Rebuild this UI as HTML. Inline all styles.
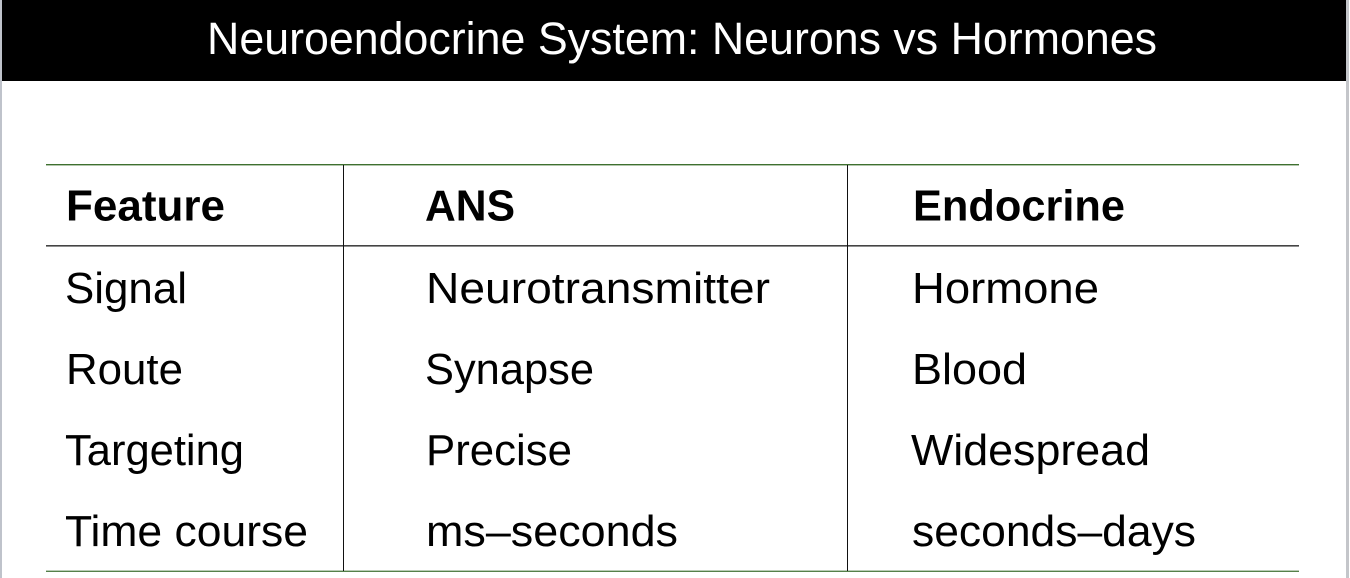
<!DOCTYPE html>
<html><head><meta charset="utf-8"><style>
html,body{margin:0;padding:0;background:#fff}
svg{display:block}
text{font-family:"Liberation Sans",sans-serif;fill:#000}
.b{font-size:44px;font-weight:bold}
.r{font-size:44px}
</style></head><body>
<svg width="1350" height="578" viewBox="0 0 1350 578" xmlns="http://www.w3.org/2000/svg">
<rect width="1350" height="578" fill="#fff"/>
<rect x="0" y="0" width="2" height="578" fill="#bfc3cb"/>
<rect x="1346" y="0" width="3" height="578" fill="#c4c6ca"/>
<rect x="2" y="0" width="1344" height="81" fill="#000"/>
<text x="207" y="54" font-size="45" style="fill:#fff" textLength="950" lengthAdjust="spacingAndGlyphs">Neuroendocrine System: Neurons vs Hormones</text>
<rect x="46" y="164" width="1253" height="1.4" fill="#3f7030"/>
<rect x="46" y="245" width="1253" height="1.6" fill="#444"/>
<rect x="46" y="570.6" width="1253" height="1.4" fill="#55804a"/>
<rect x="343" y="165" width="1" height="406" fill="#111"/>
<rect x="847" y="165" width="1" height="406" fill="#111"/>
<text class="b" x="66" y="220.5" textLength="159" lengthAdjust="spacingAndGlyphs">Feature</text>
<text class="b" x="425" y="220.5" textLength="90" lengthAdjust="spacingAndGlyphs">ANS</text>
<text class="b" x="913" y="220.5" textLength="212" lengthAdjust="spacingAndGlyphs">Endocrine</text>
<text class="r" x="65" y="303" textLength="122" lengthAdjust="spacingAndGlyphs">Signal</text>
<text class="r" x="426" y="303" textLength="344" lengthAdjust="spacingAndGlyphs">Neurotransmitter</text>
<text class="r" x="912" y="303" textLength="187" lengthAdjust="spacingAndGlyphs">Hormone</text>
<text class="r" x="66" y="384" textLength="117" lengthAdjust="spacingAndGlyphs">Route</text>
<text class="r" x="425" y="384" textLength="169" lengthAdjust="spacingAndGlyphs">Synapse</text>
<text class="r" x="912" y="384" textLength="115" lengthAdjust="spacingAndGlyphs">Blood</text>
<text class="r" x="65" y="465" textLength="179" lengthAdjust="spacingAndGlyphs">Targeting</text>
<text class="r" x="426" y="465" textLength="146" lengthAdjust="spacingAndGlyphs">Precise</text>
<text class="r" x="911" y="465" textLength="239" lengthAdjust="spacingAndGlyphs">Widespread</text>
<text class="r" x="65" y="546" textLength="243" lengthAdjust="spacingAndGlyphs">Time course</text>
<text class="r" x="426" y="546" textLength="252" lengthAdjust="spacingAndGlyphs">ms–seconds</text>
<text class="r" x="912" y="546" textLength="284" lengthAdjust="spacingAndGlyphs">seconds–days</text>
</svg>
</body></html>
